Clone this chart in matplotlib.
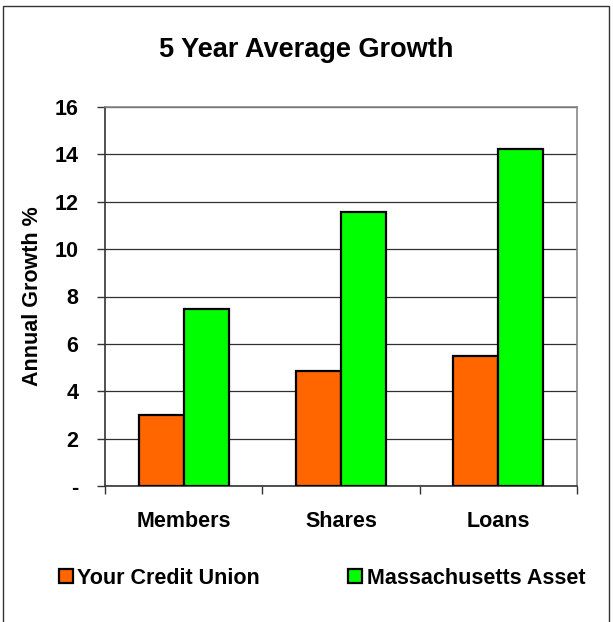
import matplotlib
matplotlib.use("Agg")
import matplotlib.pyplot as plt
import numpy as np
from matplotlib.patches import Rectangle

categories = ["Members", "Shares", "Loans"]
credit_union = [3.0, 4.85, 5.5]
mass_asset = [7.47, 11.55, 14.23]
series_names = ["Your Credit Union", "Massachusetts Asset"]
yticks = [0, 2, 4, 6, 8, 10, 12, 14, 16]
ytick_labels = ["-", "2", "4", "6", "8", "10", "12", "14", "16"]

plt.rcParams["font.family"] = ["Liberation Sans", "DejaVu Sans"]
plt.rcParams["font.weight"] = "bold"

W, H = 613, 622
fig = plt.figure(figsize=(W / 100, H / 100), dpi=100)

# outer chart frame
fig.patches.append(Rectangle((3 / W, -0.01), (606 / W), (1 - 6 / H) + 0.01,
                             transform=fig.transFigure, fill=False,
                             edgecolor="#333333", linewidth=1.0))

ax = fig.add_axes([105 / W, 1 - 486 / H, (577 - 105) / W, (486 - 107) / H])

x = np.arange(len(categories))
bw = 0.286
ax.bar(x - bw / 2, credit_union, bw, color="#FF6600", edgecolor="black",
       linewidth=1.6, zorder=3, label=series_names[0])
ax.bar(x + bw / 2, mass_asset, bw, color="#00FF00", edgecolor="black",
       linewidth=1.6, zorder=3, label=series_names[1])

ax.set_xlim(-0.5, len(categories) - 0.5)
ax.set_ylim(0, 16)
ax.set_yticks(yticks)
ax.set_yticklabels(ytick_labels, fontsize=15.5, fontweight="bold")
ax.yaxis.grid(True, color="#303030", linewidth=0.9, zorder=0)
ax.set_axisbelow(True)

# category labels centred, ticks at group boundaries
ax.set_xticks(x)
ax.set_xticklabels(categories, fontsize=15.5, fontweight="bold")
ax.tick_params(axis="x", length=0, pad=18)
ax.set_xticks(np.arange(-0.5, len(categories)), minor=True)
ax.tick_params(axis="x", which="minor", length=6, width=1.0, color="#333333")
ax.tick_params(axis="y", length=6, width=1.0, color="#333333", pad=13)

for s in ["left", "bottom"]:
    ax.spines[s].set_color("#333333")
    ax.spines[s].set_linewidth(1.2)
for s in ["top", "right"]:
    ax.spines[s].set_color("#888888")
    ax.spines[s].set_linewidth(1.2)

ax.set_ylabel("Annual Growth %", fontsize=15.5, fontweight="bold")
ax.yaxis.label.set_verticalalignment("center")
ax.yaxis.set_label_coords(-(105 - 33) / (577 - 105), 0.5)

fig.text(306 / W, 1 - 50 / H, "5 Year Average Growth", ha="center",
         va="center", fontsize=19.5, fontweight="bold")

leg = fig.legend(loc="center", bbox_to_anchor=(322 / W, 1 - 578 / H), ncol=2,
                 frameon=False, prop={"weight": "bold", "size": 15.5},
                 handlelength=0.65, handleheight=0.65, handletextpad=0.2,
                 columnspacing=4.1)

fig.savefig("out.png", dpi=100)
